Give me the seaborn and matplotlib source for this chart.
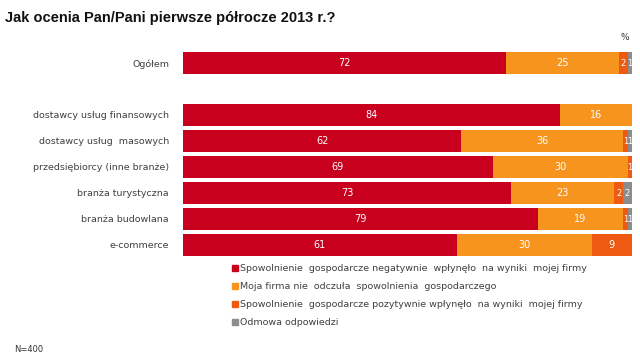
import matplotlib
matplotlib.use("Agg")
import matplotlib.pyplot as plt
from matplotlib.lines import Line2D
import seaborn as sns
import pandas as pd
import numpy as np

categories = ["Ogółem", " ", "dostawcy usług finansowych", "dostawcy usług  masowych",
              "przedsiębiorcy (inne branże)", "branża turystyczna", "branża budowlana", "e-commerce"]
negatywnie = [72, 0, 84, 62, 69, 73, 79, 61]
nie_odczula = [25, 0, 16, 36, 30, 23, 19, 30]
pozytywnie = [2, 0, 0, 1, 1, 2, 1, 9]
odmowa = [1, 0, 0, 1, 0, 2, 1, 0]
series_names = ["Spowolnienie  gospodarcze negatywnie  wpłynęło  na wyniki  mojej firmy",
                "Moja firma nie  odczuła  spowolnienia  gospodarczego",
                "Spowolnienie  gospodarcze pozytywnie wpłynęło  na wyniki  mojej firmy",
                "Odmowa odpowiedzi"]
colors = ["#C8001E", "#F7941D", "#EE5A12", "#8C8C8C"]

sns.set_theme(style="white")
plt.rcParams['font.family'] = ['DejaVu Sans']

df = pd.DataFrame({"cat": categories, "s0": negatywnie, "s1": nie_odczula,
                   "s2": pozytywnie, "s3": odmowa})
vals = df[["s0", "s1", "s2", "s3"]].to_numpy(dtype=float)
cum = np.cumsum(vals, axis=1)
for i in range(4):
    df[f"c{i}"] = cum[:, i]

fig = plt.figure(figsize=(6.4, 3.57), dpi=100)
ax = fig.add_axes([183/640, 1-258/357, (632-183)/640, 208/357])

for i in [3, 2, 1, 0]:
    sns.barplot(data=df, y="cat", x=f"c{i}", order=categories, color=colors[i],
                saturation=1, width=0.85, orient="h", ax=ax, linewidth=0)

for r in range(len(categories)):
    for i in range(4):
        v = vals[r, i]
        if v <= 0:
            continue
        start = cum[r, i] - v
        ax.text(start + v/2, r, f"{int(v)}", ha="center", va="center",
                color="white", fontsize=7 if v >= 3 else 6)

ax.set_xlim(0, 100)
ax.set_ylim(7.5, -0.5)
ax.set_xlabel("")
ax.set_ylabel("")
ax.set_xticks([])
for s in ax.spines.values():
    s.set_visible(False)
ax.tick_params(axis="y", length=0, pad=10, labelsize=6.8, labelcolor="#404040")

fig.text(5/640, 1-18/357, "Jak ocenia Pan/Pani pierwsze półrocze 2013 r.?", fontsize=10.5,
         fontweight="bold", family=["Liberation Sans"], va="center", ha="left", color="#111111")
fig.text(625/640, 1-38/357, "%", fontsize=6.5, ha="center", va="center", color="#333333")
fig.text(14/640, 1-350/357, "N=400", fontsize=6, ha="left", va="center", color="#333333")

handles = [Line2D([0], [0], marker="s", linestyle="", color=c, markersize=4) for c in colors]
fig.legend(handles, series_names, loc="upper left", bbox_to_anchor=(232/640, 1-264/357),
           frameon=False, fontsize=6.8, handlelength=0.6, handletextpad=0.25,
           labelspacing=0.95, borderaxespad=0, borderpad=0, labelcolor="#404040")

fig.savefig("out.png", dpi=100, facecolor="white")
